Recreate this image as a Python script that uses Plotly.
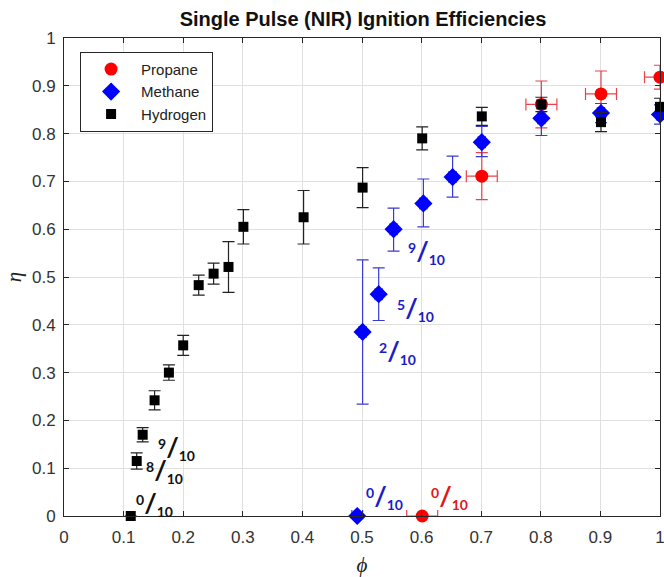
import plotly.graph_objects as go

# ---- data ----
series_names = ["Propane", "Methane", "Hydrogen"]

p_phi = [0.601, 0.701, 0.801, 0.901, 1.0]
p_eta = [0.0, 0.711, 0.861, 0.883, 0.918]
p_err = [0.0, 0.049, 0.049, 0.048, 0.025]
p_xerr = [0.026, 0.026, 0.026, 0.026, 0.026]

m_phi = [0.492, 0.501, 0.528, 0.553, 0.603, 0.652, 0.701, 0.801, 0.901, 1.0]
m_eta = [0.0, 0.385, 0.464, 0.600, 0.654, 0.709, 0.782, 0.832, 0.843, 0.840]
m_err_plus = [0.0, 0.151, 0.055, 0.044, 0.051, 0.044, 0.033, 0.030, 0.020, 0.020]
m_err_minus = [0.0, 0.151, 0.055, 0.046, 0.049, 0.042, 0.030, 0.036, 0.020, 0.020]
m_xerr = [0.009, 0.006, 0.006, 0.006, 0.006, 0.006, 0.006, 0.006, 0.006, 0.006]

h_phi = [0.112, 0.122, 0.132, 0.152, 0.176, 0.200, 0.226, 0.251, 0.276, 0.301,
         0.402, 0.501, 0.601, 0.701, 0.801, 0.901, 1.0]
h_eta = [0.0, 0.115, 0.170, 0.242, 0.300, 0.357, 0.483, 0.507, 0.521, 0.605,
         0.625, 0.687, 0.790, 0.836, 0.861, 0.824, 0.856]
h_err = [0.0, 0.017, 0.015, 0.020, 0.016, 0.021, 0.021, 0.022, 0.053, 0.036,
         0.056, 0.042, 0.024, 0.019, 0.015, 0.020, 0.018]

x_ticks = [0, 0.1, 0.2, 0.3, 0.4, 0.5, 0.6, 0.7, 0.8, 0.9, 1]
y_ticks = [0, 0.1, 0.2, 0.3, 0.4, 0.5, 0.6, 0.7, 0.8, 0.9, 1]

frac_num = ["9", "8", "0", "9", "5", "2", "0", "0"]
frac_series = ["Hydrogen", "Hydrogen", "Hydrogen", "Methane", "Methane", "Methane", "Methane", "Propane"]
frac_pos = [(0.188, 0.144), (0.169, 0.096), (0.152, 0.027),
            (0.608, 0.554), (0.590, 0.435), (0.559, 0.345),
            (0.538, 0.042), (0.647, 0.042)]

# ---- styles ----
RED = "#ff0000"
RED_ERR = "#e8444a"
BLUE = "#0000ff"
BLUE_ERR = "#3a3ad0"
BLACK = "#000000"
txt_colors = {"Hydrogen": "#111111", "Methane": "#1c1cc8", "Propane": "#e01818"}

fig = go.Figure()

fig.add_trace(go.Scatter(
    x=p_phi, y=p_eta, mode="markers", name=series_names[0],
    marker=dict(symbol="circle", size=13, color=RED),
    error_y=dict(type="data", array=p_err, color=RED_ERR, thickness=1.2, width=6),
    error_x=dict(type="data", array=p_xerr, color=RED_ERR, thickness=1.2, width=6),
    cliponaxis=False,
))
fig.add_trace(go.Scatter(
    x=m_phi, y=m_eta, mode="markers", name=series_names[1],
    marker=dict(symbol="diamond", size=14, color=BLUE),
    error_y=dict(type="data", symmetric=False, array=m_err_plus, arrayminus=m_err_minus,
                 color=BLUE_ERR, thickness=1.2, width=6),
    error_x=dict(type="data", array=m_xerr, color=BLUE_ERR, thickness=1.2, width=6),
    cliponaxis=False,
))
fig.add_trace(go.Scatter(
    x=h_phi, y=h_eta, mode="markers", name=series_names[2],
    marker=dict(symbol="square", size=10, color=BLACK),
    error_y=dict(type="data", array=h_err, color="#222222", thickness=1.2, width=6),
    cliponaxis=False,
))

for num, ser, (ax_, ay_) in zip(frac_num, frac_series, frac_pos):
    fig.add_annotation(
        x=ax_, y=ay_, xref="x", yref="y", showarrow=False,
        text=f"<b><sup>{num}</sup><span style='font-size:27px'>/</span><sub>10</sub></b>",
        font=dict(family="Lato, Open Sans, sans-serif", size=20, color=txt_colors[ser]),
    )

axis_common = dict(
    showline=True, linecolor="#262626", linewidth=1, mirror="ticks",
    ticks="inside", ticklen=5, tickcolor="#262626",
    showgrid=True, gridcolor="#e0e0e0", gridwidth=1,
    zeroline=False, automargin=False, ticklabeloverflow="allow",
    tickfont=dict(family="Liberation Sans, Arial, sans-serif", size=17, color="#333333"),
)

fig.update_xaxes(range=[0, 1], tickvals=x_ticks, ticktext=[str(v) for v in x_ticks],
                 ticklabelstandoff=6,
                 title=dict(text="<i>ϕ</i>", font=dict(family="Liberation Serif, serif", size=21, color="#222"),
                            standoff=14),
                 **axis_common)
fig.update_yaxes(range=[0, 1], tickvals=y_ticks, ticktext=[str(v) for v in y_ticks],
                 ticklabelstandoff=4,
                 title=dict(text="<i>η</i>", font=dict(family="Liberation Serif, serif", size=21, color="#222"),
                            standoff=4),
                 **axis_common)

fig.update_layout(
    width=664, height=577,
    margin=dict(l=64, r=4, t=38, b=61),
    paper_bgcolor="white", plot_bgcolor="white",
    title=dict(text="<b>Single Pulse (NIR) Ignition Efficiencies</b>",
               x=363 / 664, xanchor="center", y=1 - 19 / 577, yanchor="middle",
               font=dict(family="Liberation Sans, Arial, sans-serif", size=20, color="#111")),
    legend=dict(x=0.027, y=0.971, xanchor="left", yanchor="top",
                bgcolor="white", bordercolor="#262626", borderwidth=1,
                font=dict(family="Liberation Sans, Arial, sans-serif", size=15, color="#222"),
                itemwidth=50, tracegroupgap=0),
    showlegend=True,
)

fig.write_html("out.html")
